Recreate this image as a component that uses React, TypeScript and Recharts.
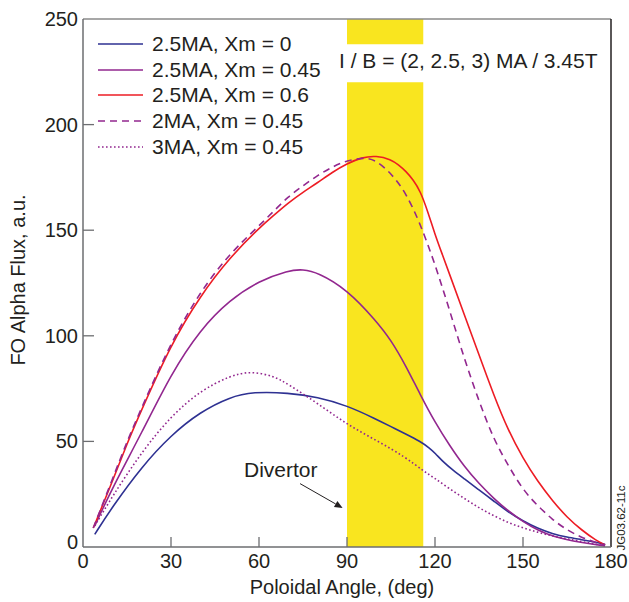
import React from 'react';
import { ComposedChart, Line, XAxis, YAxis, ReferenceArea, ReferenceLine } from 'recharts';

// poloidal angle (deg) and FO alpha flux (a.u.) per case
const angleBlue = [4, 10, 20, 30, 40, 50, 58, 70, 80, 90, 100, 105, 110, 115, 118, 120, 123, 126, 130, 135, 140, 145, 150, 155, 160, 165, 170, 175, 178];
const fluxBlue = [6, 19, 38, 53, 64, 71, 73.5, 73, 71, 67, 60.5, 57, 53.5, 50, 47, 44.5, 40, 36.5, 32.3, 27, 21.8, 16.5, 12.3, 8.8, 6.3, 4.6, 3.5, 2.2, 1.2];

const anglePurple = [4, 10, 20, 30, 40, 50, 60, 70, 75, 80, 90, 100, 105, 110, 115, 120, 125, 130, 135, 140, 145, 150, 155, 160, 170, 178];
const fluxPurple = [10, 28, 54, 82, 103, 117, 126, 131, 131.5, 130, 122, 107, 98, 86, 72, 59, 48, 38, 30, 23, 17, 12, 8, 5, 2, 0.5];

const angleRed = [3.5, 10, 15, 20, 30, 40, 50, 60, 65, 70, 75, 80, 85, 90, 95, 100, 105, 107.5, 110, 112.5, 115, 117.5, 120, 122.5, 125, 130, 135, 140, 145, 150, 155, 160, 165, 170, 175, 178];
const fluxRed = [9, 31, 49, 65, 96, 119, 137, 151, 157, 163, 168, 172.5, 177.5, 181.5, 184.5, 185.3, 183.5, 181, 178, 174, 168.5, 159, 148, 138.5, 129, 110, 91, 72, 55, 42, 31, 22, 14, 8, 3, 1];

const angleDashed = [3.5, 10, 15, 20, 30, 40, 50, 60, 65, 70, 75, 80, 85, 90, 96, 100, 105, 110, 115, 120, 125, 130, 135, 140, 145, 150, 155, 160, 165, 170, 175, 178];
const fluxDashed = [9, 32, 50, 66, 97, 121, 139, 152, 159, 166, 171, 176, 180, 183, 184.5, 183, 177, 168, 153, 134, 112, 89, 69, 51, 38.5, 27, 19.5, 13, 8, 4.5, 2, 1];

const angleDotted = [4, 10, 20, 30, 40, 50, 57, 65, 70, 80, 90, 100, 110, 116, 120, 125, 130, 135, 140, 145, 150, 155, 160, 165, 170, 175, 178];
const fluxDotted = [10, 24, 45, 62, 74, 81, 83.3, 81, 77, 68, 58, 50.5, 42.5, 36, 32.5, 27.5, 23, 18.5, 14.8, 11.5, 9, 7, 5.2, 3.8, 2.6, 1.3, 0.5];

const xTicks = [0, 30, 60, 90, 120, 150, 180];
const yTicks = [0, 50, 100, 150, 200, 250];

// heating window, split around the I/B caption
const bandStart = 90;
const bandEnd = 116;

const zip = (xs: number[], ys: number[]) => xs.map((x, i) => ({ x, y: ys[i] }));

const series = [
  { name: '2.5MA, Xm = 0', data: zip(angleBlue, fluxBlue), color: '#2e3192', dash: undefined },
  { name: '2.5MA, Xm = 0.45', data: zip(anglePurple, fluxPurple), color: '#92278f', dash: undefined },
  { name: '2.5MA, Xm = 0.6', data: zip(angleRed, fluxRed), color: '#ed1c24', dash: undefined },
  { name: '2MA, Xm = 0.45', data: zip(angleDashed, fluxDashed), color: '#92278f', dash: '7 5' },
  { name: '3MA, Xm = 0.45', data: zip(angleDotted, fluxDotted), color: '#92278f', dash: '1.6 2.4' },
];

const font = 'Liberation Sans, Arial, Helvetica, sans-serif';
const ink = '#231f20';
const axisGray = '#6d6e71';

const XTick = (props: any) => {
  const { x, y, payload } = props;
  const v = payload.value;
  return (
    <g>
      {v > 0 && v < 180 && <line x1={x} y1={y} x2={x} y2={y - 10} stroke={axisGray} strokeWidth={1.3} />}
      <text x={x} y={y + 21} textAnchor="middle" fontSize={20} fontFamily={font} fill={ink}>{v}</text>
    </g>
  );
};

const YTick = (props: any) => {
  const { x, y, payload } = props;
  const v = payload.value;
  // the zero label sits a little above the corner
  const ty = v === 0 ? y + 2 : y + 7;
  return (
    <g>
      {v > 0 && v < 250 && <line x1={x} y1={y} x2={x + 11} y2={y} stroke={axisGray} strokeWidth={1.3} />}
      <text x={x - 5} y={ty} textAnchor="end" fontSize={20} fontFamily={font} fill={ink}>{v}</text>
    </g>
  );
};

const LegendBox = () => (
  <div style={{ position: 'absolute', left: 98, top: 31, fontFamily: font, fontSize: 21, color: ink }}>
    {series.map((s) => (
      <div key={s.name} style={{ display: 'flex', alignItems: 'center', height: 25.7, whiteSpace: 'nowrap' }}>
        <svg width={54} height={10}>
          <line x1={0} y1={5} x2={45} y2={5} stroke={s.color} strokeWidth={1.6} strokeDasharray={s.dash} />
        </svg>
        <span>{s.name}</span>
      </div>
    ))}
  </div>
);

const arrowShape = (props: any) => {
  const { x1, y1, x2, y2 } = props;
  const ang = Math.atan2(y2 - y1, x2 - x1);
  const len = 8;
  const w = 3.5;
  const bx = x2 - len * Math.cos(ang);
  const by = y2 - len * Math.sin(ang);
  const px = -Math.sin(ang) * w;
  const py = Math.cos(ang) * w;
  return (
    <g>
      <line x1={x1} y1={y1} x2={bx} y2={by} stroke={ink} strokeWidth={1} />
      <polygon points={`${x2},${y2} ${bx + px},${by + py} ${bx - px},${by - py}`} fill={ink} />
    </g>
  );
};

export default function App() {
  return (
    <div style={{ position: 'absolute', left: 0, top: 0, width: 629, height: 602, background: '#fff' }}>
      <ComposedChart width={629} height={602} margin={{ top: 19, right: 18, bottom: 0, left: 0 }}>
        <XAxis
          type="number"
          dataKey="x"
          domain={[0, 180]}
          ticks={xTicks}
          height={55}
          tickSize={0}
          tickMargin={0}
          tick={<XTick />}
          axisLine={{ stroke: axisGray, strokeWidth: 1.5 }}
          allowDataOverflow
        />
        <YAxis
          type="number"
          domain={[0, 250]}
          ticks={yTicks}
          width={83}
          tickSize={0}
          tickMargin={0}
          tick={<YTick />}
          axisLine={{ stroke: axisGray, strokeWidth: 1.5 }}
          allowDataOverflow
        />
        <ReferenceArea x1={bandStart} x2={bandEnd} y1={0} y2={220} fill="#f9e51f" fillOpacity={1} stroke="none" />
        <ReferenceArea x1={bandStart} x2={bandEnd} y1={238} y2={250} fill="#f9e51f" fillOpacity={1} stroke="none" />
        <ReferenceLine y={250} stroke="#8a8a8a" strokeWidth={1.5} />
        <ReferenceLine x={180} stroke="#231f20" strokeWidth={1.5} />
        <ReferenceLine segment={[{ x: 74, y: 30 }, { x: 88.5, y: 18.5 }]} shape={arrowShape} />
        {series.map((s) => (
          <Line
            key={s.name}
            data={s.data}
            dataKey="y"
            name={s.name}
            type="basis"
            stroke={s.color}
            strokeWidth={1.6}
            strokeDasharray={s.dash}
            dot={false}
            activeDot={false}
            isAnimationActive={false}
          />
        ))}
      </ComposedChart>
      <LegendBox />
      <svg width={629} height={602} style={{ position: 'absolute', left: 0, top: 0, pointerEvents: 'none' }}>
        <text x={339} y={68} fontSize={21} fontFamily={font} fill={ink}>I / B = (2, 2.5, 3) MA / 3.45T</text>
        <text x={244} y={477} fontSize={21} fontFamily={font} fill={ink}>Divertor</text>
        <text x={342} y={594} textAnchor="middle" fontSize={20} fontFamily={font} fill={ink}>Poloidal Angle, (deg)</text>
        <text
          x={18}
          y={280}
          transform="rotate(-90 18 280)"
          textAnchor="middle"
          dominantBaseline="central"
          fontSize={20}
          fontFamily={font}
          fill={ink}
        >
          FO Alpha Flux, a.u.
        </text>
        <text
          x={621}
          y={518}
          transform="rotate(-90 621 518)"
          textAnchor="middle"
          dominantBaseline="central"
          fontSize={11.5}
          fontFamily={font}
          fill={ink}
        >
          JG03.62-11c
        </text>
      </svg>
    </div>
  );
}
